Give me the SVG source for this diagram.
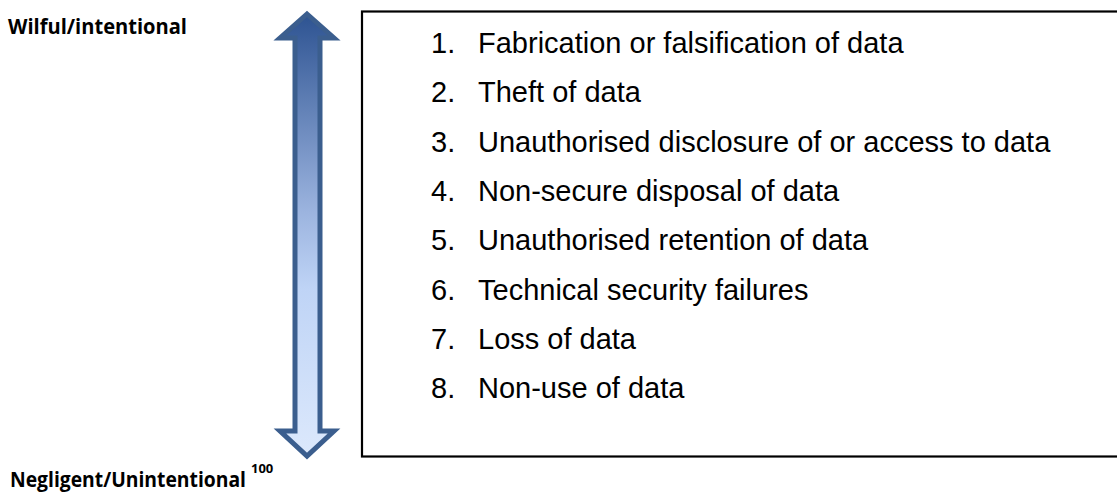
<svg xmlns="http://www.w3.org/2000/svg" width="1117" height="493" viewBox="0 0 1117 493">
<style>
.item{font-family:"Liberation Sans",Arial,sans-serif;font-size:29px;fill:#000}
.lbl{font-family:"Open Sans","Noto Sans",sans-serif;font-weight:bold;fill:#000}
</style>
<defs>
<linearGradient id="g" x1="0" y1="10" x2="0" y2="460" gradientUnits="userSpaceOnUse">
<stop offset="0" stop-color="#2B5190"/>
<stop offset="0.45" stop-color="#9CB4DF"/>
<stop offset="0.62" stop-color="#BFD4F6"/>
<stop offset="1" stop-color="#DDE9FC"/>
</linearGradient>
</defs>
<rect width="1117" height="493" fill="#fff"/>
<g id="arrow">
<path d="M307,14 L334,38 L320,38 L320,431 L334,431 L307,456 L280,431 L295,431 L295,38 L280,38 Z" fill="url(#g)" stroke="#3B5E8E" stroke-width="5" stroke-linejoin="miter"/>
</g>
<g id="label-top">
<text class="lbl" x="8" y="34" font-size="21" textLength="179" lengthAdjust="spacingAndGlyphs">Wilful/intentional</text>
</g>
<g id="label-bottom">
<text class="lbl" x="10" y="487" font-size="21"><tspan textLength="236" lengthAdjust="spacingAndGlyphs">Negligent/Unintentional</tspan><tspan font-size="13" dx="5" dy="-14">100</tspan></text>
</g>
<g id="list">
<rect x="362" y="11.5" width="800" height="445" fill="none" stroke="#000" stroke-width="2.2"/>
<text class="item" x="431" y="53">1.</text><text class="item" x="478" y="53">Fabrication or falsification of data</text>
<text class="item" x="431" y="102">2.</text><text class="item" x="478" y="102">Theft of data</text>
<text class="item" x="431" y="152">3.</text><text class="item" x="478" y="152">Unauthorised disclosure of or access to data</text>
<text class="item" x="431" y="201">4.</text><text class="item" x="478" y="201">Non-secure disposal of data</text>
<text class="item" x="431" y="250">5.</text><text class="item" x="478" y="250">Unauthorised retention of data</text>
<text class="item" x="431" y="300">6.</text><text class="item" x="478" y="300">Technical security failures</text>
<text class="item" x="431" y="349">7.</text><text class="item" x="478" y="349">Loss of data</text>
<text class="item" x="431" y="398">8.</text><text class="item" x="478" y="398">Non-use of data</text>
</g>
</svg>
